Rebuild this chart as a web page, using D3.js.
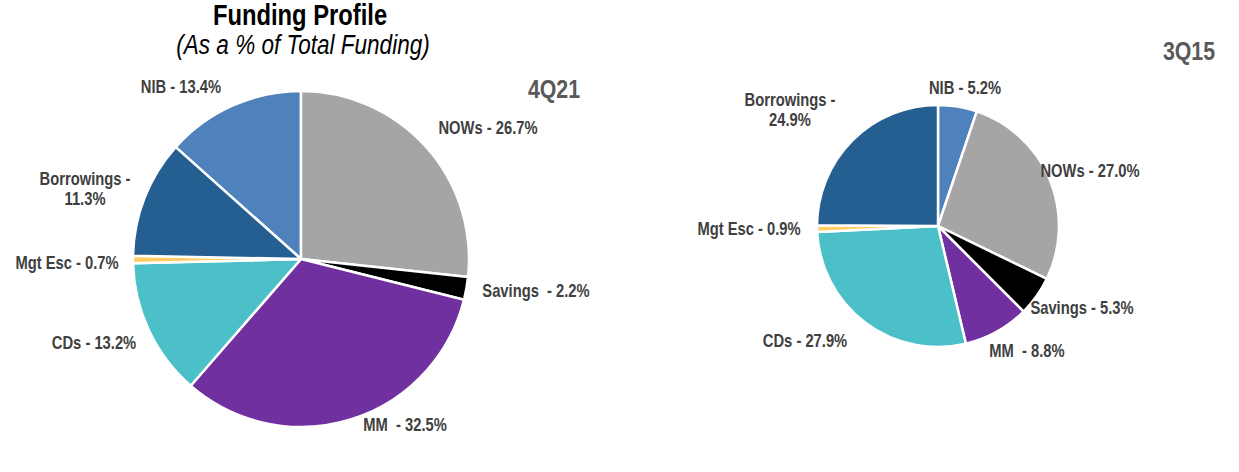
<!DOCTYPE html>
<html><head><meta charset="utf-8">
<script src="https://cdn.jsdelivr.net/npm/d3@7"></script>
<style>
body{margin:0;background:#fff;}
svg text{font-family:"Liberation Sans Narrow","Arial Narrow","Liberation Sans",Arial,sans-serif;font-weight:bold;white-space:pre;}
</style></head>
<body><svg id="c" width="1239" height="472"></svg>
<script>
// ---- data ----
const categories = ["NIB","NOWs","Savings","MM","CDs","Mgt Esc","Borrowings"];
const values4Q21 = [13.4, 26.7, 2.2, 32.5, 13.2, 0.7, 11.3];
const values3Q15 = [5.2, 27.0, 5.3, 8.8, 27.9, 0.9, 24.9];
const periods = ["4Q21","3Q15"];
const colors = ["#4F81BD","#A5A5A5","#000000","#7030A0","#4BC0C8","#FFCC66","#255E91"];

// ---- layout ----
const svg = d3.select("#c");
const SX = 0.82; // horizontal condensing to imitate a narrow typeface
const pies = [
  {period:periods[0], values:values4Q21, cx:301, cy:259, r:168, start:-values4Q21[0]/100*2*Math.PI,
   periodPos:[554,98],
   labels:[
     {lines:["NIB - 13.4%"], x:181, y:93},
     {lines:["NOWs - 26.7%"], x:488, y:134},
     {lines:["Savings  - 2.2%"], x:536, y:297},
     {lines:["MM  - 32.5%"], x:405, y:431},
     {lines:["CDs - 13.2%"], x:94, y:349},
     {lines:["Mgt Esc - 0.7%"], x:67, y:269},
     {lines:["Borrowings -","11.3%"], x:85, y:185}
   ]},
  {period:periods[1], values:values3Q15, cx:938, cy:226, r:121, start:0,
   periodPos:[1189,60],
   labels:[
     {lines:["NIB - 5.2%"], x:965, y:94},
     {lines:["NOWs - 27.0%"], x:1090, y:177},
     {lines:["Savings - 5.3%"], x:1082, y:314},
     {lines:["MM  - 8.8%"], x:1027, y:357},
     {lines:["CDs - 27.9%"], x:805, y:347},
     {lines:["Mgt Esc - 0.9%"], x:749, y:235},
     {lines:["Borrowings -","24.9%"], x:790, y:106}
   ]}
];

const color = d3.scaleOrdinal().domain(categories).range(colors);

function label(x,y,size,fill,lines,opts={}){
  const t = svg.append("text").attr("transform",`translate(${x},${y}) scale(${SX},1)`)
    .attr("text-anchor","middle").attr("font-size",size).attr("fill",fill)
    .attr("xml:space","preserve");
  if(opts.italic) t.attr("font-style","italic").style("font-weight","normal");
  lines.forEach((s,k)=>t.append("tspan").attr("x",0).attr("dy",k?opts.lh:0).text(s));
  return t;
}

label(300,25,29,"#000",["Funding Profile"]);
label(303,54,27.5,"#000",["(As a % of Total Funding)"],{italic:true});

pies.forEach(p=>{
  const data = categories.map((c,i)=>({cat:c, value:p.values[i]}));
  const pie = d3.pie().sort(null).value(d=>d.value)
    .startAngle(p.start).endAngle(p.start+2*Math.PI);
  const arc = d3.arc().innerRadius(0).outerRadius(p.r);
  const g = svg.append("g").attr("transform",`translate(${p.cx},${p.cy})`);
  g.selectAll("path").data(pie(data)).join("path")
    .attr("d",arc).attr("fill",d=>color(d.data.cat))
    .attr("stroke","#fff").attr("stroke-width",2.5).attr("stroke-linejoin","round");

  label(p.periodPos[0],p.periodPos[1],26,"#595959",[p.period]);
  p.labels.forEach(l=>label(l.x,l.y,18,"#404040",l.lines,{lh:20.5}));
});
</script></body></html>
